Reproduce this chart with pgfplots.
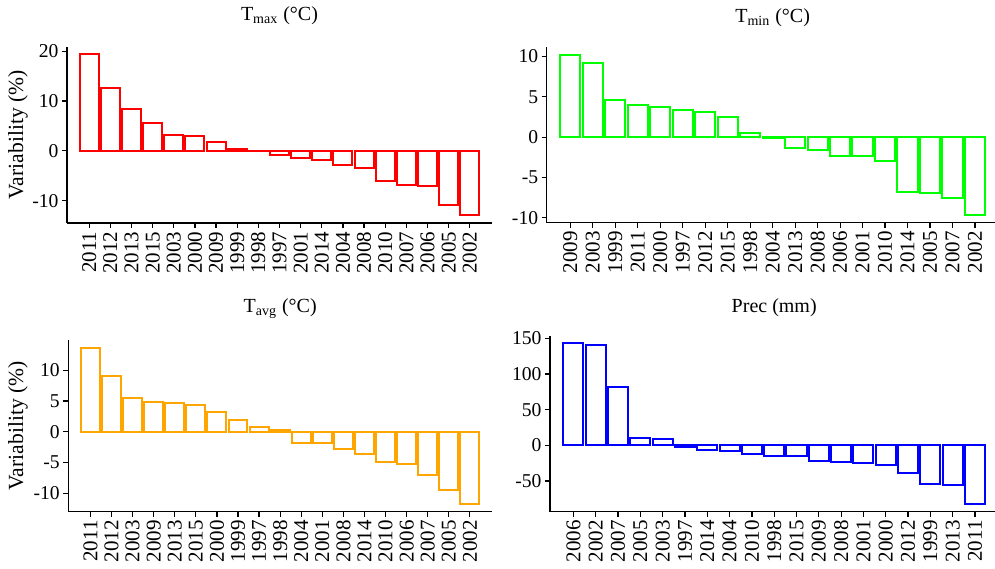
\documentclass[border=0pt]{standalone}
\usepackage{fontspec}
\setmainfont{Liberation Serif}
\usepackage{pgfplots}
\pgfplotsset{compat=1.18}
\definecolor{rred}{HTML}{FF0000}
\definecolor{rgreen}{HTML}{00FF00}
\definecolor{rorange}{HTML}{FFA500}
\definecolor{rblue}{HTML}{0000FF}
\pgfplotsset{
  panel/.style={
    scale only axis,
    anchor=south west,
    axis x line=bottom, axis y line=left,
    axis line style={-, line width=0.75bp, black},
    tick align=outside,
    major tick length=2.6bp,
    tick style={black, line width=0.6bp},
    xtick={0,...,18},
    xmin=-1.05, xmax=19.05,
    x tick label style={rotate=90, anchor=east, font=\fontsize{10.5bp}{12bp}\selectfont, inner sep=1.5bp},
    y tick label style={font=\fontsize{9.8bp}{11bp}\selectfont, inner sep=1.5bp},
    ybar, bar width=0.9,
    clip=false,
  },
  bars/.style={draw=#1, fill=white, line width=1bp},
}
\begin{document}
\begin{tikzpicture}
% Tmax
\begin{axis}[panel, at={(33.5bp,173bp)}, width=212.5bp, height=88.15bp,
  ymin=-14.5, ymax=20.9, ytick={-10,0,10,20}, yticklabels={-10,0,10,20},
  xticklabels={2011,2012,2013,2015,2003,2000,2009,1999,1998,1997,2001,2014,2004,2008,2010,2007,2006,2005,2002}]
\addplot[bars=rred] coordinates {(0,19.35) (1,12.6) (2,8.4) (3,5.5) (4,3.2) (5,2.9) (6,1.8) (7,0.4) (8,-0.1) (9,-0.9) (10,-1.5) (11,-1.8) (12,-2.9) (13,-3.5) (14,-6.1) (15,-6.8) (16,-7.1) (17,-10.8) (18,-12.9)};
\end{axis}
% Tmin
\begin{axis}[panel, at={(273.35bp,173.15bp)}, width=225.95bp, height=88bp,
  ymin=-10.6, ymax=11.2, ytick={-10,-5,0,5,10}, yticklabels={-10,-5,0,5,10},
  xticklabels={2009,2003,1999,2011,2000,1997,2012,2015,1998,2004,2013,2008,2006,2001,2010,2014,2005,2007,2002}]
\addplot[bars=rgreen] coordinates {(0,10.15) (1,9.2) (2,4.6) (3,3.95) (4,3.7) (5,3.4) (6,3.05) (7,2.5) (8,0.55) (9,-0.1) (10,-1.4) (11,-1.6) (12,-2.3) (13,-2.4) (14,-2.95) (15,-6.85) (16,-6.9) (17,-7.6) (18,-9.65)};
\end{axis}
% Tavg
\begin{axis}[panel, at={(34.15bp,28.65bp)}, width=211.85bp, height=85.85bp,
  ymin=-13.0, ymax=14.9, ytick={-10,-5,0,5,10}, yticklabels={-10,-5,0,5,10},
  xticklabels={2011,2012,2003,2009,2013,2015,2000,1999,1997,1998,2004,2001,2008,2014,2010,2006,2007,2005,2002}]
\addplot[bars=rorange] coordinates {(0,13.65) (1,9.1) (2,5.4) (3,4.9) (4,4.65) (5,4.4) (6,3.25) (7,1.9) (8,0.7) (9,0.27) (10,-1.85) (11,-1.85) (12,-2.8) (13,-3.6) (14,-4.9) (15,-5.25) (16,-7.1) (17,-9.4) (18,-11.75)};
\end{axis}
% Prec
\begin{axis}[panel, at={(275bp,28.65bp)}, width=224.2bp, height=88bp,
  ymin=-93, ymax=153.7, ytick={-50,0,50,100,150}, yticklabels={-50,0,50,100,150},
  xticklabels={2006,2002,2007,2005,2003,1997,2014,2004,2010,1998,2015,2009,2008,2001,2000,2012,1999,2013,2011}]
\addplot[bars=rblue] coordinates {(0,143) (1,140.2) (2,81.8) (3,10.3) (4,8.9) (5,-2.8) (6,-6.1) (7,-7.9) (8,-12.6) (9,-14.5) (10,-15.4) (11,-22) (12,-23.8) (13,-24.3) (14,-27.6) (15,-38.3) (16,-54.7) (17,-55.6) (18,-81.8)};
\end{axis}
% titles
\node[anchor=base, font=\fontsize{10bp}{12bp}\selectfont] at (139.75bp,274bp) {T\textsubscript{max} (°C)};
\node[anchor=base, font=\fontsize{10bp}{12bp}\selectfont] at (386.3bp,273bp) {T\textsubscript{min} (°C)};
\node[anchor=base, font=\fontsize{10bp}{12bp}\selectfont] at (140.1bp,128bp) {T\textsubscript{avg} (°C)};
\node[anchor=base, font=\fontsize{10bp}{12bp}\selectfont] at (387.1bp,128.3bp) {Prec (mm)};
% y labels
\node[rotate=90, font=\fontsize{10.8bp}{12bp}\selectfont] at (9bp,217.1bp) {Variability (\%)};
\node[rotate=90, font=\fontsize{10.8bp}{12bp}\selectfont] at (9bp,71.55bp) {Variability (\%)};
\pgfresetboundingbox
\path (0,0) rectangle (497.5bp,284.5bp);
\end{tikzpicture}
\end{document}
